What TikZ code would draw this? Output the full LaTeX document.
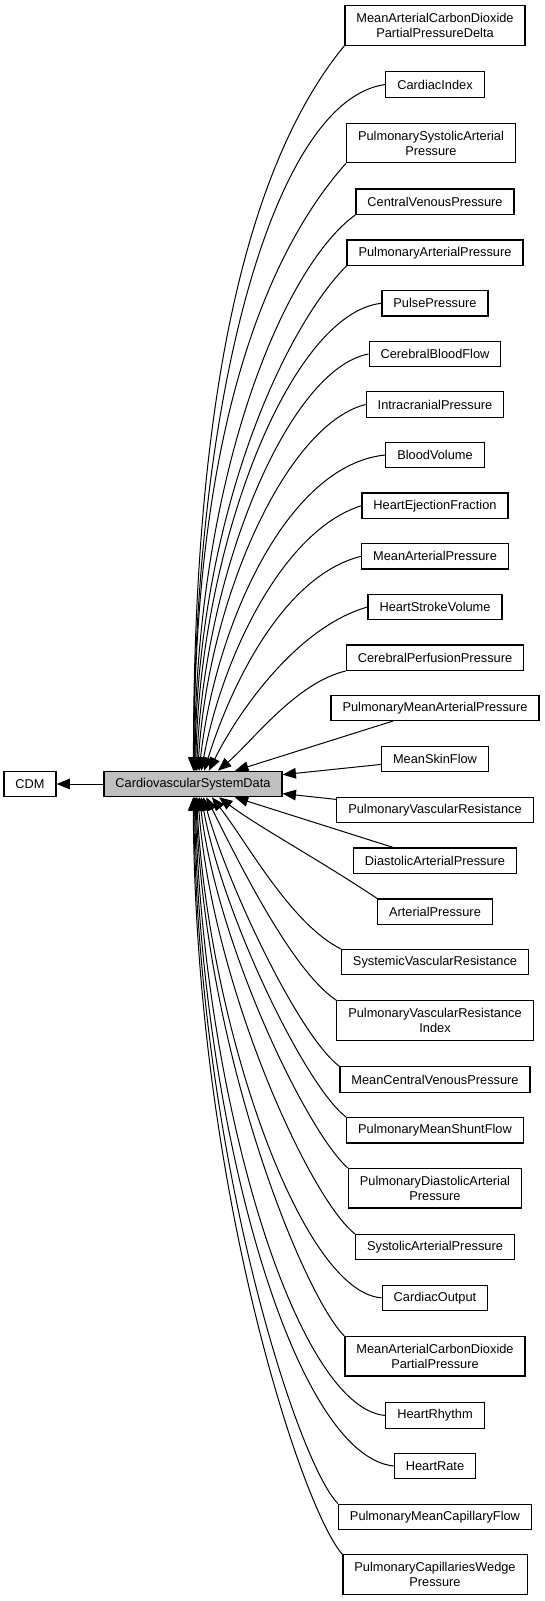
\documentclass[tikz,border=0pt]{standalone}
\usepackage{fontspec}
\setmainfont{Liberation Sans}
\usetikzlibrary{arrows.meta}

\begin{document}
\begin{tikzpicture}[x=0.75pt,y=-0.75pt,
	box/.style={draw,line width=0.9pt,inner xsep=8.6pt,inner ysep=0pt,minimum height=19pt,align=center,font=\fontsize{9.6}{11.25}\selectfont},
	tall/.style={minimum height=29.5pt},
	dep/.style={line width=0.75pt,-{Triangle[length=10pt,width=8pt]}}]
					\useasboundingbox (0,0) rectangle (545,1601);
					\path (30,784) node[box] (cdm) {CDM};
					\path (193,784) node[box,fill=black!25] (c) {CardiovascularSystemData};
					
					\path (435,25.5) node[box,tall] (macdppd) {MeanArterialCarbonDioxide\\PartialPressureDelta};
					\path (435,84.5) node[box] (ci) {CardiacIndex};
					\path (431,143) node[box,tall] (psap) {PulmonarySystolicArterial\\Pressure};
					\path (435,201.7) node[box] (cvp) {CentralVenousPressure};
					\path (435,252.7) node[box] (pap) {PulmonaryArterialPressure};
					\path (435,303.3) node[box] (pp) {PulsePressure};
					\path (435,354) node[box] (cbf) {CerebralBloodFlow};
					\path (435,404.5) node[box] (icp) {IntracranialPressure};
					\path (435,455) node[box] (bv) {BloodVolume};
					\path (435,505.7) node[box] (hef) {HeartEjectionFraction};
					\path (435,556.3) node[box] (map) {MeanArterialPressure};
					\path (435,607) node[box] (hsv) {HeartStrokeVolume};
					\path (435,657.7) node[box] (cpp) {CerebralPerfusionPressure};
					\path (435,707.8) node[box] (pmap) {PulmonaryMeanArterialPressure};
					\path (435,758.8) node[box] (msf) {MeanSkinFlow};
					\path (435,810) node[box] (pvr) {PulmonaryVascularResistance};
					\path (435,860.7) node[box] (dap) {DiastolicArterialPressure};
					\path (435,911.7) node[box] (ap) {ArterialPressure};
					\path (435,962.2) node[box] (svr) {SystemicVascularResistance};
					\path (435,1020.5) node[box,tall] (pvri) {PulmonaryVascularResistance\\Index};
					\path (435,1079.5) node[box] (mcvp) {MeanCentralVenousPressure};
					\path (435,1130.3) node[box] (pmsf) {PulmonaryMeanShuntFlow};
					\path (435,1188.3) node[box,tall] (pdap) {PulmonaryDiastolicArterial\\Pressure};
					\path (435,1247.2) node[box] (sap) {SystolicArterialPressure};
					\path (435,1297.8) node[box] (co) {CardiacOutput};
					\path (435,1356.3) node[box,tall] (macdpp) {MeanArterialCarbonDioxide\\PartialPressure};
					\path (435,1415.5) node[box] (hrh) {HeartRhythm};
					\path (435,1466) node[box] (hr) {HeartRate};
					\path (435,1516.8) node[box] (pmcf) {PulmonaryMeanCapillaryFlow};
					\path (435,1574.5) node[box,tall] (pcwp) {PulmonaryCapillariesWedge\\Pressure};
					
					\draw[dep] (c) -- (cdm);
					
					\draw[dep] (macdppd.south west) .. controls +(-90,110) and +(0,-400) .. (c.88);
					\draw[dep] (ci.west) .. controls +(-110,15) and +(0,-380) .. (c.87);
					\draw[dep] (psap.south west) .. controls +(-80,90) and +(0,-340) .. (c.86);
					\draw[dep] (cvp.south west) .. controls +(-70,50) and +(2,-300) .. (c.84);
					\draw[dep] (pap.south west) .. controls +(-60,60) and +(3,-260) .. (c.82);
					\draw[dep] (pp.west) .. controls +(-90,10) and +(5,-230) .. (c.79);
					\draw[dep] (cbf.west) .. controls +(-80,15) and +(8,-200) .. (c.75);
					\draw[dep] (icp.west) .. controls +(-80,20) and +(10,-170) .. (c.70);
					\draw[dep] (bv.west) .. controls +(-100,10) and +(15,-140) .. (c.65);
					\draw[dep] (hef.west) .. controls +(-80,25) and +(20,-110) .. (c.58);
					\draw[dep] (map.west) .. controls +(-80,20) and +(25,-80) .. (c.50);
					\draw[dep] (hsv.west) .. controls +(-70,20) and +(30,-60) .. (c.40);
					\draw[dep] (cpp.south west) .. controls +(-50,12) and +(35,-30) .. (c.28);
					
					\draw[dep] (pmap) -- (c);
					\draw[dep] (msf) -- (c);
					\draw[dep] (pvr) -- (c);
					\draw[dep] (dap) -- (c);
					
					\draw[dep] (ap.north west) .. controls +(-60,-40) and +(40,30) .. (c.333);
					\draw[dep] (svr.north west) .. controls +(-50,-25) and +(35,45) .. (c.325);
					\draw[dep] (pvri.north west) .. controls +(-45,-30) and +(30,60) .. (c.315);
					\draw[dep] (mcvp.north west) .. controls +(-40,-30) and +(25,90) .. (c.308);
					\draw[dep] (pmsf.north west) .. controls +(-40,-30) and +(22,120) .. (c.302);
					\draw[dep] (pdap.north west) .. controls +(-40,-35) and +(18,150) .. (c.296);
					\draw[dep] (sap.north west) .. controls +(-45,-35) and +(15,190) .. (c.290);
					\draw[dep] (co.west) .. controls +(-80,-5) and +(12,230) .. (c.285);
					\draw[dep] (macdpp.north west) .. controls +(-40,-40) and +(10,260) .. (c.282);
					\draw[dep] (hrh.west) .. controls +(-90,-8) and +(8,300) .. (c.279);
					\draw[dep] (hr.west) .. controls +(-100,-10) and +(6,330) .. (c.276);
					\draw[dep] (pmcf.north west) .. controls +(-40,-40) and +(4,360) .. (c.273);
					\draw[dep] (pcwp.north west) .. controls +(-40,-45) and +(2,390) .. (c.271);
\end{tikzpicture}
\end{document}
